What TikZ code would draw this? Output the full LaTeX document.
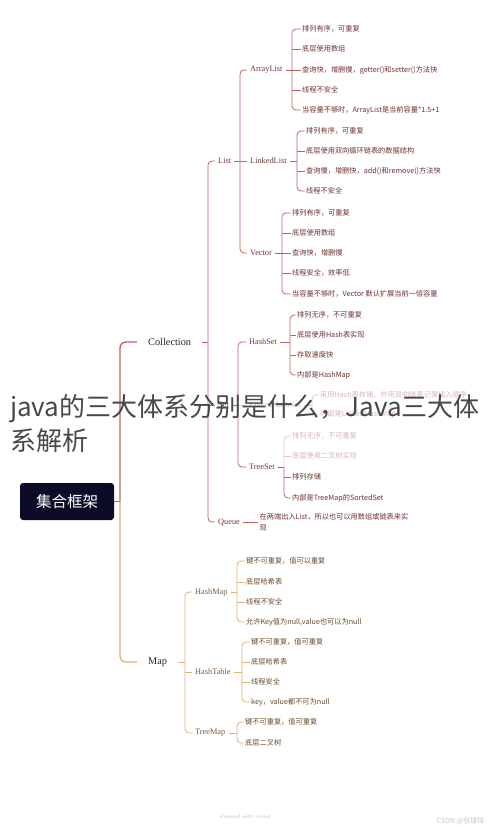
\documentclass[tikz,border=0pt]{standalone}
\usepackage{fontspec}
\setmainfont{Liberation Serif}
\newfontfamily\cjk{Noto Sans CJK SC}
\definecolor{credline}{RGB}{192,100,92}
\definecolor{cleaf}{RGB}{112,48,48}
\definecolor{csub}{RGB}{112,58,58}
\definecolor{cfade}{RGB}{214,182,180}
\definecolor{cfadeline}{RGB}{232,200,196}
\definecolor{tanline}{RGB}{222,178,120}
\definecolor{tleaf}{RGB}{104,74,40}
\definecolor{tsubc}{RGB}{120,92,64}
\definecolor{rootc}{RGB}{12,12,40}
\definecolor{titlec}{RGB}{72,72,72}
\begin{document}
\begin{tikzpicture}[x=1pt,y=-1pt,
  lf/.style={anchor=west, inner xsep=1.5pt, inner ysep=1pt, font=\cjk\fontsize{7.2}{9}\selectfont, text=cleaf},
  tlf/.style={lf, text=tleaf},
  flf/.style={lf, text=cfade},
  sub/.style={anchor=west, inner xsep=3pt, inner ysep=1pt, font=\fontsize{8.3}{10}\selectfont, text=csub},
  tsub/.style={sub, text=tsubc},
  fsub/.style={sub, text=cfade},
  mainb/.style={anchor=west, inner xsep=11pt, inner ysep=2pt, font=\fontsize{10.3}{12}\selectfont, text=black!85},
  rl/.style={draw=credline, line width=0.8pt, rounded corners=4pt},
  fl/.style={draw=cfadeline, line width=0.8pt, rounded corners=4pt},
  tl/.style={draw=tanline, line width=0.8pt, rounded corners=4pt},
  rlm/.style={draw=credline, line width=1.3pt, rounded corners=6pt},
  tlm/.style={draw=tanline, line width=1.3pt, rounded corners=6pt},
  titlef/.style={anchor=base west, inner sep=0pt, font=\cjk\fontsize{26}{30}\selectfont, text=titlec}
]
\fill[white] (0,0) rectangle (490,826);
\useasboundingbox (0,0) rectangle (490,826);

% root
\node[fill=rootc, rounded corners=3pt, minimum width=94pt, minimum height=37pt, text=white, font=\cjk\fontsize{15.5}{18}\selectfont] (root) at (67,501.5) {集合框架};
\node[mainb] (coll) at (137,342) {Collection};
\node[mainb] (map) at (137,662) {Map};
\coordinate (tR) at (120,501.5);
\draw[rlm] (root.east) -- (tR);
\draw[rlm] (tR) |- (coll.west);
\draw[tlm] (tR) |- (map.west);

% Collection children
\node[sub] (list) at (215,161) {List};
\node[sub] (set) at (215,405) {Set};
\node[sub] (queue) at (215,522) {Queue};
\coordinate (tC) at (208,342);
\draw[rl] (coll.east) -- (tC);
\draw[rl] (list.west) -| (tC) |- (queue.west);
\draw[rl] (tC |- set.west) -- (set.west);

% List children
\node[sub] (al) at (247,70) {ArrayList};
\node[sub] (ll) at (247,161) {LinkedList};
\node[sub] (vec) at (247,253) {Vector};
\coordinate (tL) at (240,161);
\draw[rl] (list.east) -- (tL);
\draw[rl] (al.west) -| (tL) |- (vec.west);
\draw[rl] (tL |- ll.west) -- (ll.west);

% ArrayList leaves
\node[lf] (a1) at (300.5,29) {排列有序，可重复};
\node[lf] (a2) at (300.5,49) {底层使用数组};
\node[lf] (a3) at (300.5,70) {查询快，增删慢，getter()和setter()方法快};
\node[lf] (a4) at (300.5,90) {线程不安全};
\node[lf] (a5) at (300.5,110) {当容量不够时，ArrayList是当前容量*1.5+1};
\coordinate (tAL) at (292,70);
\draw[rl] (al.east) -- (tAL);
\draw[rl] (a1.west) -| (tAL) |- (a5.west);
\foreach \n in {a2,a3,a4} {\draw[rl] (tAL |- \n.west) -- (\n.west);}

% LinkedList leaves
\node[lf] (b1) at (304.5,131) {排列有序，可重复};
\node[lf] (b2) at (304.5,151) {底层使用双向循环链表的数据结构};
\node[lf] (b3) at (304.5,171) {查询慢，增删快，add()和remove()方法快};
\node[lf] (b4) at (304.5,191) {线程不安全};
\coordinate (tLL) at (297,161);
\draw[rl] (ll.east) -- (tLL);
\draw[rl] (b1.west) -| (tLL) |- (b4.west);
\foreach \n in {b2,b3} {\draw[rl] (tLL |- \n.west) -- (\n.west);}

% Vector leaves
\node[lf] (v1) at (290.5,213) {排列有序，可重复};
\node[lf] (v2) at (290.5,233) {底层使用数组};
\node[lf] (v3) at (290.5,253) {查询快，增删慢};
\node[lf] (v4) at (290.5,273) {线程安全，效率低};
\node[lf] (v5) at (290.5,294) {当容量不够时，Vector 默认扩展当前一倍容量};
\coordinate (tV) at (282,253);
\draw[rl] (vec.east) -- (tV);
\draw[rl] (v1.west) -| (tV) |- (v5.west);
\foreach \n in {v2,v3,v4} {\draw[rl] (tV |- \n.west) -- (\n.west);}

% Set children
\node[sub] (hs) at (246,342) {HashSet};
\node[fsub] (lhs) at (246,405) {LinkedHashSet};
\node[sub] (ts) at (246,467) {TreeSet};
\coordinate (tS) at (238,405);
\draw[rl] (set.east) -- (tS);
\draw[rl] (hs.west) -| (tS) |- (ts.west);
\draw[fl] (tS |- lhs.west) -- (lhs.west);

% HashSet leaves
\node[lf] (h1) at (295.5,315) {排列无序，不可重复};
\node[lf] (h2) at (295.5,335) {底层使用Hash表实现};
\node[lf] (h3) at (295.5,355) {存取速度快};
\node[lf] (h4) at (295.5,375) {内部是HashMap};
\coordinate (tHS) at (290,342);
\draw[rl] (hs.east) -- (tHS);
\draw[rl] (h1.west) -| (tHS) |- (h4.west);
\foreach \n in {h2,h3} {\draw[rl] (tHS |- \n.west) -- (\n.west);}

% LinkedHashSet leaves
\node[flf] (k1) at (318.5,395) {采用Hash表存储，并用双向链表记录插入顺序};
\node[flf] (k2) at (318.5,414) {内部是LinkedHashMap};
\coordinate (tLHS) at (312,405);
\draw[fl] (lhs.east) -- (tLHS);
\draw[fl] (k1.west) -| (tLHS) |- (k2.west);

% TreeSet leaves
\node[flf] (t1) at (290.5,436) {排列无序，不可重复};
\node[flf] (t2) at (290.5,456) {底层使用二叉树实现};
\node[lf] (t3) at (290.5,477) {排列存储};
\node[lf] (t4) at (290.5,498) {内部是TreeMap的SortedSet};
\coordinate (tTS) at (284,467);
\draw[rl] (ts.east) -- (tTS);
\draw[fl] (t1.west) -| (tTS);
\draw[rl] (tTS) |- (t4.west);
\draw[fl] (tTS |- t2.west) -- (t2.west);
\draw[rl] (tTS |- t3.west) -- (t3.west);

% Queue leaf
\node[lf, align=left, font=\cjk\fontsize{7.2}{11}\selectfont] (q1) at (258,522) {在两端出入List，所以也可以用数组或链表来实\\现};
\draw[rl] (queue.east) -- (q1.west);

% Map children
\node[tsub] (hm) at (192,592) {HashMap};
\node[tsub] (ht) at (192,672) {HashTable};
\node[tsub] (tm) at (192,733) {TreeMap};
\coordinate (tM) at (185,662);
\draw[tl] (map.east) -- (tM);
\draw[tl] (hm.west) -| (tM) |- (tm.west);
\draw[tl] (tM |- ht.west) -- (ht.west);

% HashMap leaves
\node[tlf] (m1) at (244.5,561) {键不可重复，值可以重复};
\node[tlf] (m2) at (244.5,582) {底层哈希表};
\node[tlf] (m3) at (244.5,602) {线程不安全};
\node[tlf] (m4) at (244.5,622) {允许Key值为null,value也可以为null};
\coordinate (tHM) at (237,592);
\draw[tl] (hm.east) -- (tHM);
\draw[tl] (m1.west) -| (tHM) |- (m4.west);
\foreach \n in {m2,m3} {\draw[tl] (tHM |- \n.west) -- (\n.west);}

% HashTable leaves
\node[tlf] (n1) at (249.5,642) {键不可重复，值可重复};
\node[tlf] (n2) at (249.5,662) {底层哈希表};
\node[tlf] (n3) at (249.5,682) {线程安全};
\node[tlf] (n4) at (249.5,702) {key，value都不可为null};
\coordinate (tHT) at (242,672);
\draw[tl] (ht.east) -- (tHT);
\draw[tl] (n1.west) -| (tHT) |- (n4.west);
\foreach \n in {n2,n3} {\draw[tl] (tHT |- \n.west) -- (\n.west);}

% TreeMap leaves
\node[tlf] (r1) at (243.5,722) {键不可重复，值可重复};
\node[tlf] (r2) at (243.5,743) {底层二叉树};
\coordinate (tTM) at (237,733);
\draw[tl] (tm.east) -- (tTM);
\draw[tl] (r1.west) -| (tTM) |- (r2.west);

% footer
\node[font=\sffamily\fontsize{5.5}{6}\selectfont, text=black!22] (pw) at (245,817) {Powered with xmind};
\node[anchor=east, font=\cjk\fontsize{7}{8}\selectfont, text=black!22] (csdn) at (488,821) {CSDN @张球球};

% title overlay
\node[titlef] (title1) at (10,416.5) {java的三大体系分别是什么，Java三大体};
\node[titlef] (title2) at (10,450.5) {系解析};
\end{tikzpicture}
\end{document}
